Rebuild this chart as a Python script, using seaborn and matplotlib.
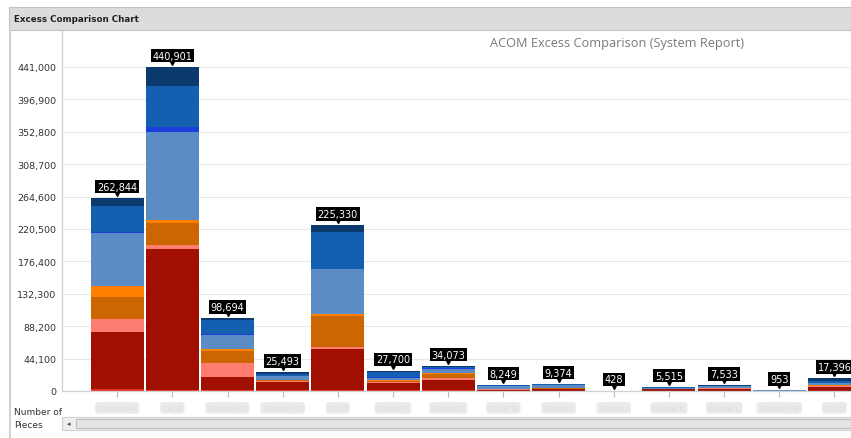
import numpy as np
import pandas as pd
import matplotlib
matplotlib.use("Agg")
import matplotlib.pyplot as plt
from matplotlib.patches import Rectangle
from matplotlib.lines import Line2D
from matplotlib.transforms import offset_copy
import seaborn as sns

# ---------------- data ----------------
categories = ["Category A", "Cat B", "Category C", "Category D", "Cat E",
              "Catego F", "Catego G", "Cat H Ty", "Catego I",
              "Catego J", "Catego K", "Catego L", "Category M",
              "Cat N"]
totals = [262844, 440901, 98694, 25493, 225330, 27700, 34073, 8249, 9374,
          428, 5515, 7533, 953, 17396]

series_names = ["Series 1", "Series 2", "Series 3", "Series 4", "Series 5",
                "Series 6", "Series 7", "Series 8", "Series 9"]
# bottom -> top
s1_bright_red = [2500, 1500, 1400, 1000, 1200, 1000, 1200, 449, 674, 100, 415, 633, 200, 596]
s2_dark_red   = [78000, 192101, 18200, 11000, 56000, 10000, 14200, 1500, 1500, 200, 2000, 2500, 400, 4800]
s3_salmon     = [17700, 5400, 18600, 1400, 2700, 1400, 2700, 600, 1200, 0, 300, 500, 0, 1000]
s4_dk_orange  = [29500, 29900, 16800, 1600, 41800, 1800, 4800, 500, 800, 0, 0, 300, 0, 800]
s5_orange     = [15000, 4500, 2000, 500, 3700, 400, 2000, 300, 400, 0, 0, 0, 0, 400]
s6_steel      = [72500, 119000, 19500, 4600, 60300, 3700, 5400, 3800, 3800, 128, 1800, 2800, 353, 3500]
s7_bright_blu = [1800, 6300, 500, 200, 800, 300, 500, 0, 0, 0, 0, 0, 0, 300]
s8_med_blue   = [35000, 56300, 19000, 3500, 50000, 7200, 2000, 800, 700, 0, 800, 500, 0, 2500]
s9_navy       = [10844, 25900, 2694, 1693, 8830, 1900, 1273, 300, 300, 0, 200, 300, 0, 3500]

series_values = [s1_bright_red, s2_dark_red, s3_salmon, s4_dk_orange, s5_orange,
                 s6_steel, s7_bright_blu, s8_med_blue, s9_navy]
colors = ["#E5331F", "#A10F00", "#FF7C70", "#CC6600", "#FF8000",
          "#5B8CC5", "#1A3FDB", "#145FB0", "#0D3A6E"]

yticks = [0, 44100, 88200, 132300, 176400, 220500, 264600, 308700, 352800, 396900, 441000]

# ---------------- frame ----------------
rows = []
for name, vals in zip(series_names, series_values):
    for i, v in enumerate(vals):
        rows.append({"idx": i, "series": name, "value": v})
df = pd.DataFrame(rows)

sns.set_theme(style="white")
plt.rcParams["font.family"] = ["DejaVu Sans"]

W, H = 851, 439
fig = plt.figure(figsize=(W / 100, H / 100), dpi=100)

# header band
fig.patches.append(Rectangle((9 / W, 1 - 31 / H), 1 - 9 / W, 23 / H, transform=fig.transFigure,
                             facecolor="#DCDCDC", edgecolor="#C4C4C4", linewidth=0.8, zorder=0))
fig.lines.append(Line2D([9.5 / W, 9.5 / W], [0, 1 - 31 / H], transform=fig.transFigure,
                        color="#C8C8C8", linewidth=1.2))
fig.text(14 / W, 1 - 19.5 / H, "Excess Comparison Chart", fontsize=6.3, fontweight="bold",
         color="#222222", va="center", ha="left")

ax = fig.add_axes([62 / W, 1 - 392 / H, (W - 62) / W, (392 - 32) / H])

palette = dict(zip(series_names, colors))
sns.histplot(data=df, x="idx", weights="value", hue="series",
             hue_order=series_names[::-1], multiple="stack", discrete=True,
             shrink=0.96, palette=palette, linewidth=0, alpha=1,
             legend=False, ax=ax)

ax.set_xlim(-1.0, 13.3)
ax.set_ylim(0, 490000)
ax.set_yticks(yticks)
ax.set_yticklabels([f"{v:,}" for v in yticks], fontsize=6.8, color="#333333")
ax.tick_params(axis="y", length=0, pad=4)
ax.set_xticks(range(len(categories)))
ax.set_xticklabels(categories, fontsize=5, color="#DDDDDD")
for lab in ax.get_xticklabels():
    lab.set_bbox(dict(boxstyle="round,pad=0.4", facecolor="#E8E8E8", edgecolor="none", alpha=0.9))
ax.tick_params(axis="x", length=4, width=0.8, color="#BBBBBB", pad=6, direction="out", bottom=True)
ax.set_xlabel("")
ax.set_ylabel("")
ax.yaxis.grid(True, color="#E8E8E8", linewidth=0.8)
ax.xaxis.grid(False)
ax.set_axisbelow(True)
for side in ["top", "right"]:
    ax.spines[side].set_visible(False)
for side in ["left", "bottom"]:
    ax.spines[side].set_color("#D0D0D0")
    ax.spines[side].set_linewidth(0.9)

# value labels
tri = offset_copy(ax.transData, fig=fig, x=0, y=3.6, units="points")
for i, v in enumerate(totals):
    ax.plot(i, v, marker="v", markersize=4.2, color="black", transform=tri, clip_on=False, zorder=5)
    ax.annotate(f"{v:,}", xy=(i, v), xytext=(0, 8.2), textcoords="offset points",
                ha="center", va="center", color="white", fontsize=7,
                bbox=dict(boxstyle="square,pad=0.18", facecolor="black", edgecolor="none"),
                zorder=6, annotation_clip=False)

# chart title
fig.text(617 / W, 1 - 43.5 / H, "ACOM Excess Comparison (System Report)",
         fontsize=9.2, color="#7A7A7A", ha="center", va="center", family="Open Sans")

# axis caption
fig.text(14 / W, 1 - 413 / H, "Number of", fontsize=6.5, color="#333333", va="center")
fig.text(14 / W, 1 - 425.5 / H, "Pieces", fontsize=6.5, color="#333333", va="center")

# scrollbar
fig.patches.append(Rectangle((62 / W, 1 - 431 / H), (W - 62) / W, 13 / H, transform=fig.transFigure,
                             facecolor="#EFEFEF", edgecolor="#CFCFCF", linewidth=0.8))
fig.patches.append(Rectangle((76 / W, 1 - 429 / H), (W - 76) / W, 9 / H, transform=fig.transFigure,
                             facecolor="#E4E4E4", edgecolor="#BDBDBD", linewidth=0.8))
fig.text(68.5 / W, 1 - 424.5 / H, "\u25C2", fontsize=5, color="#444444", ha="center", va="center")

fig.savefig("out.png", dpi=100)
